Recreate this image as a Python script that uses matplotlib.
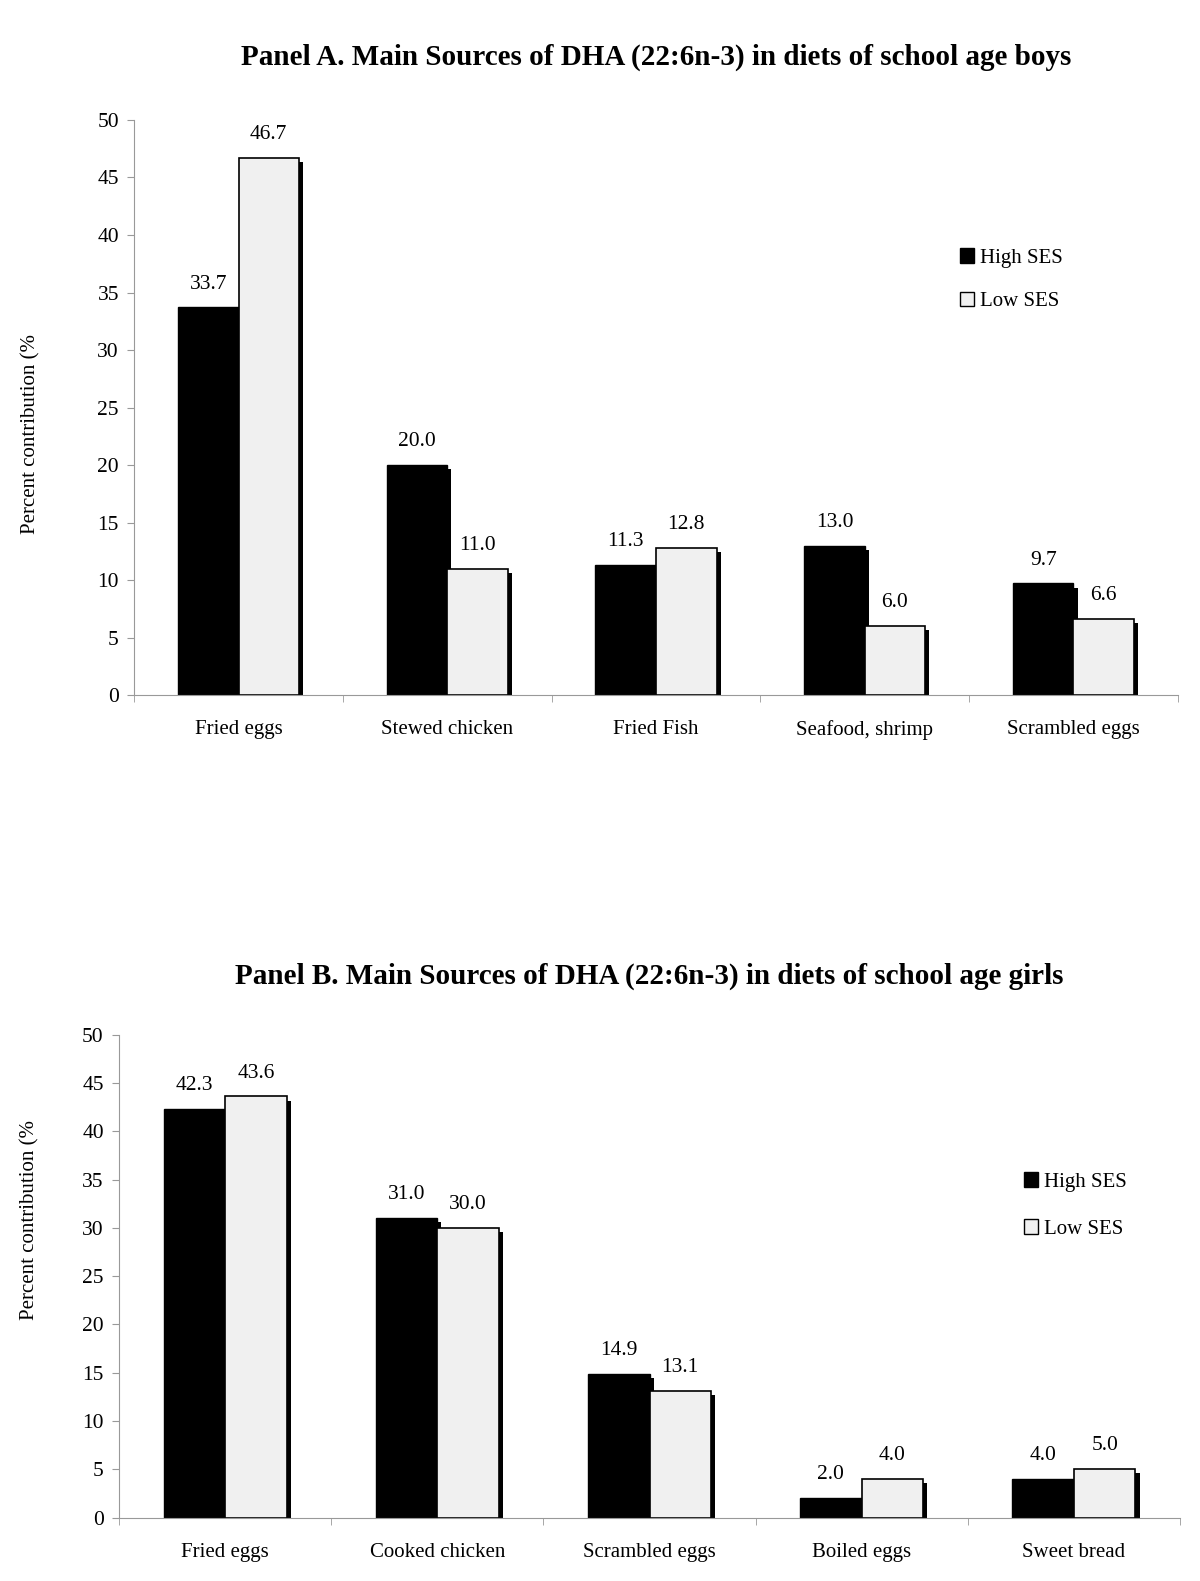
import numpy as np
import matplotlib.pyplot as plt
import matplotlib.patheffects as pe
from matplotlib.patches import Patch

plt.rcParams['font.family'] = ['Liberation Serif', 'DejaVu Serif']

# Panel A: boys
foods_a = ['Fried eggs', 'Stewed chicken', 'Fried Fish', 'Seafood, shrimp', 'Scrambled eggs']
high_a = [33.7, 20.0, 11.3, 13.0, 9.7]
low_a = [46.7, 11.0, 12.8, 6.0, 6.6]

# Panel B: girls
foods_b = ['Fried eggs', 'Cooked chicken', 'Scrambled eggs', 'Boiled eggs', 'Sweet bread']
high_b = [42.3, 31.0, 14.9, 2.0, 4.0]
low_b = [43.6, 30.0, 13.1, 4.0, 5.0]

titles = ['Panel A. Main Sources of DHA (22:6n-3) in diets of school age boys',
          'Panel B. Main Sources of DHA (22:6n-3) in diets of school age girls']
series = ['High SES', 'Low SES']


def panel(ax, foods, high, low, title, title_pad, legend_anchor, spacing, ylab_xy):
    x = np.arange(len(foods))
    w = 0.29
    shadow = [pe.SimplePatchShadow(offset=(3, -3), shadow_rgbFace='black', alpha=1.0), pe.Normal()]
    b1 = ax.bar(x - w / 2, high, w, color='black', edgecolor='black', linewidth=1.0)
    b2 = ax.bar(x + w / 2, low, w, color='#f0f0f0', edgecolor='black', linewidth=1.2)
    for b in list(b1) + list(b2):
        b.set_path_effects(shadow)
    for xi, v in zip(x - w / 2, high):
        ax.annotate(f'{v:.1f}', (xi, v), xytext=(0, 10), textcoords='offset points',
                    ha='center', va='bottom', fontsize=15.5)
    for xi, v in zip(x + w / 2, low):
        ax.annotate(f'{v:.1f}', (xi, v), xytext=(0, 10), textcoords='offset points',
                    ha='center', va='bottom', fontsize=15.5)

    ax.set_xlim(-0.5, len(foods) - 0.5)
    ax.set_ylim(0, 50)
    ax.set_yticks(range(0, 51, 5))
    ax.set_xticks(x)
    ax.set_xticklabels(foods, fontsize=15)
    ax.set_xticks(np.arange(-0.5, len(foods)), minor=True)
    ax.tick_params(axis='x', which='major', length=0, pad=18)
    ax.tick_params(axis='x', which='minor', length=5, color='#999999')
    ax.tick_params(axis='y', length=5, color='#999999', labelsize=15.5, pad=6)
    for s in ['top', 'right']:
        ax.spines[s].set_visible(False)
    for s in ['left', 'bottom']:
        ax.spines[s].set_color('#999999')
    ax.set_ylabel('Percent contribution (%', fontsize=15, va='center')
    ax.yaxis.set_label_coords(*ylab_xy)
    ax.set_title(title, fontsize=21, fontweight='bold', pad=title_pad)

    handles = [Patch(facecolor='black', edgecolor='black'),
               Patch(facecolor='#f0f0f0', edgecolor='black')]
    ax.legend(handles, series, loc='center left', bbox_to_anchor=legend_anchor,
              frameon=False, fontsize=15, handlelength=0.7, handleheight=0.7,
              handletextpad=0.3, labelspacing=spacing)


fig = plt.figure(figsize=(12, 15.81), dpi=100)
ax_a = fig.add_axes([0.1118, 0.5604, 0.8697, 0.3637])
ax_b = fig.add_axes([0.0992, 0.0401, 0.8841, 0.3055])

panel(ax_a, foods_a, high_a, low_a, titles[0], 40, (0.773, 0.722), 1.15, (-0.0993, 0.4546))
panel(ax_b, foods_b, high_b, low_b, titles[1], 37, (0.835, 0.646), 1.3, (-0.0836, 0.616))

fig.savefig('out.png', dpi=100)
